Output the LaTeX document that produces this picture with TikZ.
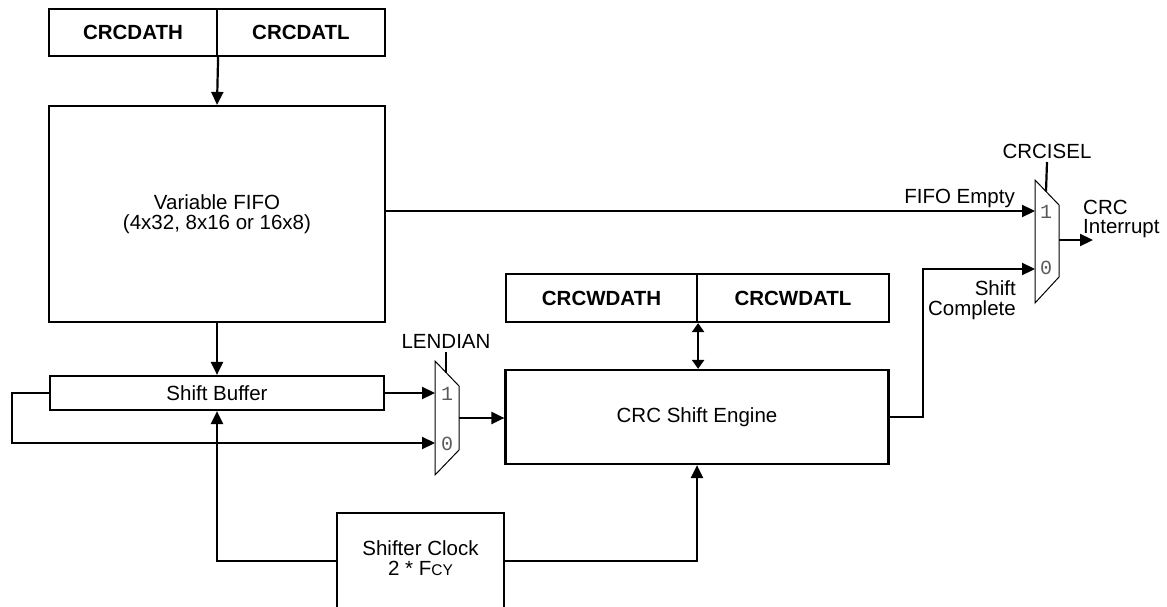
\documentclass[tikz,border=0pt]{standalone}
\usepackage{fontspec}
\setmainfont{Liberation Sans}
\newfontfamily\muxfont{Liberation Mono}
\usetikzlibrary{arrows.meta,calc}
\definecolor{muxgrey}{HTML}{5A5A5A}
\tikzset{
  blk/.style={draw, line width=2.2pt, inner sep=0pt, align=center, font=\fontsize{20.5}{20.5}\selectfont},
  reg/.style={blk, font=\fontsize{20.5}{20.5}\selectfont\bfseries},
  wire/.style={line width=2.2pt},
  arr/.style={wire, -{Triangle[length=13pt,width=12pt]}},
  biarr/.style={wire, {Triangle[length=9pt,width=12pt]}-{Triangle[length=9pt,width=12pt]}},
  muxbody/.style={draw, line width=1pt, line join=miter},
  muxnum/.style={font=\muxfont\fontsize{20}{20}\selectfont, text=muxgrey, inner sep=0pt},
  lbl/.style={inner sep=0pt, font=\fontsize{20.5}{19.5}\selectfont},
}
\begin{document}
\begin{tikzpicture}[x=1pt,y=-1pt]
\useasboundingbox (0,0) rectangle (1167,607);
% registers
\node[reg, minimum width=168pt, minimum height=47pt] (dath) at (133,32.5) {CRCDATH};
\node[reg, minimum width=168pt, minimum height=47pt] (datl) at (301,32.5) {CRCDATL};
% FIFO
\node[blk, minimum width=336pt, minimum height=216pt] (fifo) at (217,214)
  {\fontsize{20.5}{20}\selectfont Variable FIFO\\(4x32, 8x16 or 16x8)};
% shift buffer
\node[blk, minimum width=334pt, minimum height=34pt] (sbuf) at (217,393) {Shift Buffer};
% CRC shift engine
\node[blk, minimum width=383pt, minimum height=94pt] (eng) at (697,417) {CRC Shift Engine};
\node[reg, minimum width=191pt, minimum height=48pt] (wdath) at (601.5,298) {CRCWDATH};
\node[reg, minimum width=192pt, minimum height=48pt] (wdatl) at (793,298) {CRCWDATL};
% shifter clock (box runs past the bottom edge)
\node[blk, minimum width=167pt, minimum height=134pt] (clk) at (420.5,580) {};
\node[lbl, align=center, font=\fontsize{20.5}{20}\selectfont] (clktext) at (420.5,558)
  {Shifter Clock\\2 * F{\fontsize{15.5}{15.5}\selectfont CY}};

% LENDIAN mux
\draw[muxbody] (435,361) -- (459,386) -- (459,450) -- (435,475) -- cycle;
\coordinate (l1) at (435,393);
\coordinate (l0) at (435,443);
\coordinate (lout) at (459,418);
\coordinate (lsel) at (446,372.5);
\node[muxnum] (l1n) at (447,394) {1};
\node[muxnum] (l0n) at (447,444) {0};
\node[lbl] (lend) at (446,341) {LENDIAN};
\draw[wire] (lend.south |- 0,352) -- (lsel);

% CRCISEL mux
\draw[muxbody] (1035,180) -- (1059,205) -- (1059,277) -- (1035,303) -- cycle;
\coordinate (c1) at (1035,211);
\coordinate (c0) at (1035,269);
\coordinate (cout) at (1059,240);
\coordinate (csel) at (1046,191.5);
\node[muxnum] (c1n) at (1046,212) {1};
\node[muxnum] (c0n) at (1046,268) {0};
\node[lbl] (cisel) at (1047,151) {CRCISEL};
\draw[wire] (cisel.south |- 0,162) -- (csel);

% labels
\node[lbl, anchor=east] (fe) at (1015,198) {FIFO Empty};
\node[lbl, anchor=east, align=right] (sc) at (1016,300) {Shift\\Complete};
\node[lbl, anchor=west, align=left] (ci) at (1083,219) {CRC\\Interrupt};

% connectors
\draw[arr] (dath.south east) -- (fifo.north);
\draw[arr] (fifo.south) -- (sbuf.north);
\draw[arr] (sbuf.east) -- (l1);
\draw[arr] (sbuf.west) -- ++(-37,0) |- (l0);
\draw[arr] (lout) -- (eng.west |- lout);
\draw[biarr] (wdath.south east) -- (wdath.south east |- eng.north);
\draw[arr] (clk.west |- 0,561) -| (sbuf.south);
\draw[arr] (clk.east |- 0,561) -| (eng.south);
\draw[arr] (eng.east) -- ++(33,0) |- (c0);
\draw[arr] (fifo.east |- c1) -- (c1);
\draw[arr] (cout) -- ++(34,0);
\end{tikzpicture}
\end{document}
